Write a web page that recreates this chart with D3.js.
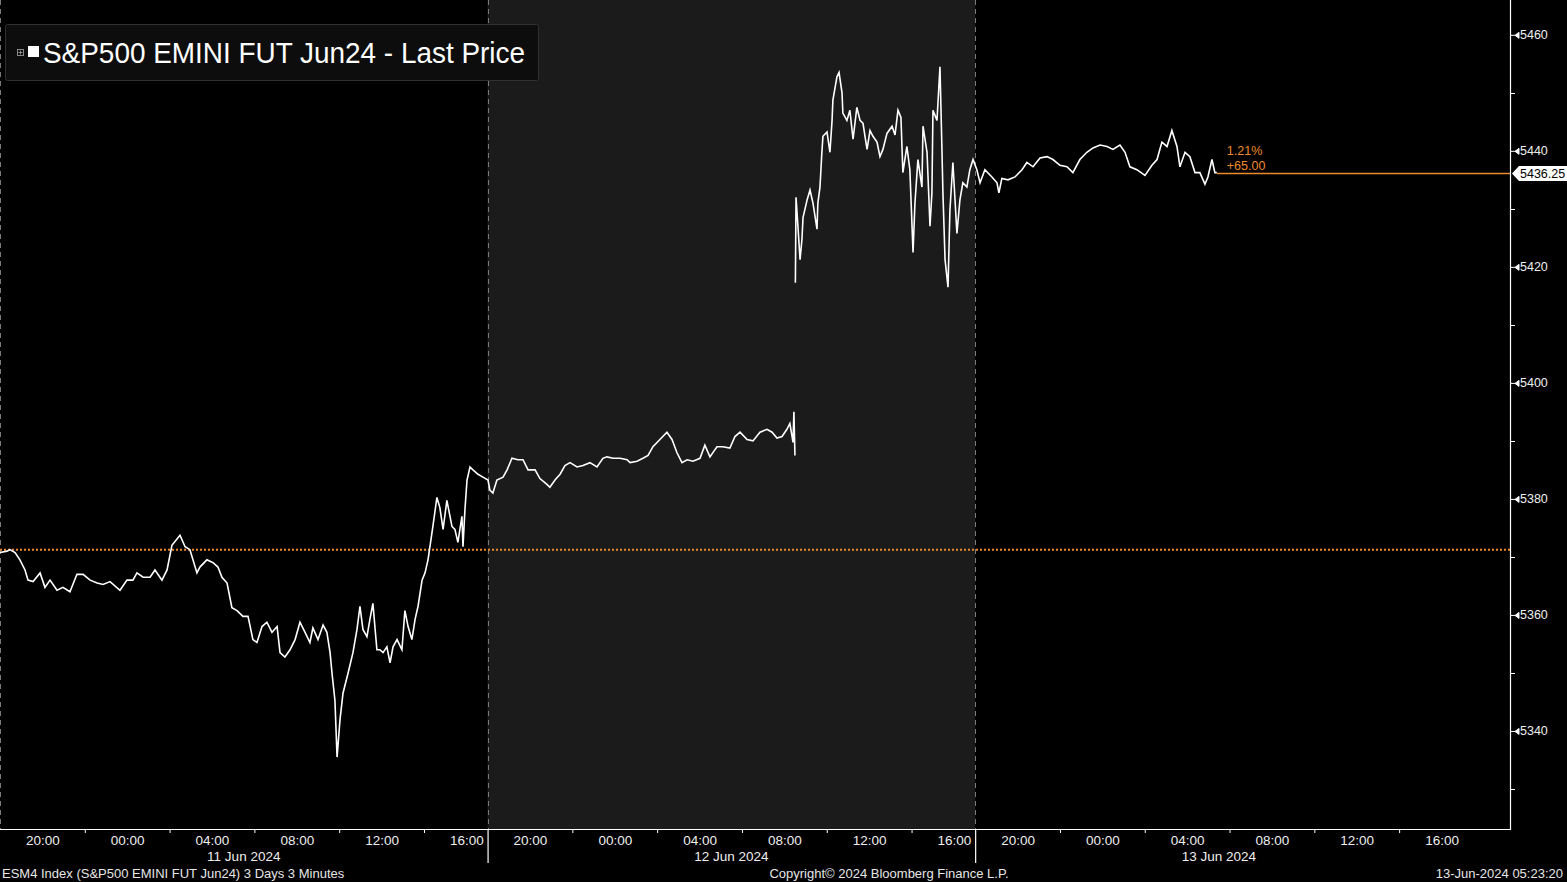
<!DOCTYPE html>
<html>
<head>
<meta charset="utf-8">
<script src="https://cdn.jsdelivr.net/npm/d3@7"></script>
<style>
  html, body { margin: 0; padding: 0; background: #000; }
  svg { display: block; }
  text { font-family: "Liberation Sans", Arial, sans-serif; }
</style>
</head>
<body>
<svg id="chart" width="1567" height="882"></svg>
<script>
// ---------------- DATA ----------------
const title = "S&P500 EMINI FUT Jun24 - Last Price";
const footerLeft = "ESM4 Index (S&P500 EMINI FUT  Jun24) 3 Days 3 Minutes";
const footerCenter = "Copyright\u00A9 2024 Bloomberg Finance L.P.";
const footerRight = "13-Jun-2024 05:23:20";

const sessionDates = ["11 Jun 2024", "12 Jun 2024", "13 Jun 2024"];
const sessionLength = 23;                 // trading hours per session (18:00 -> 17:00)
const xTickOffsets = [2, 6, 10, 14, 18, 22];   // hours after 18:00 open
const xTickLabels = ["20:00", "00:00", "04:00", "08:00", "12:00", "16:00"];
const minorTickOffsets = [0, 4, 8, 12, 16, 20];
const xDomainHours = [0, 71.23];

const yMajorTicks = [5340, 5360, 5380, 5400, 5420, 5440, 5460];
const yMinorTicks = [5330, 5350, 5370, 5390, 5410, 5430, 5450];
const yDomain = [5323.1, 5466.0];

const prevClose = 5371.25;
const lastPrice = 5436.25;

// trading hours since 10-Jun 18:00 (daily 17:00-18:00 halt removed)
const hours = [
  0, 0.33, 0.47, 0.71, 0.94, 1.18, 1.32, 1.56, 1.89, 2.12, 2.36, 2.69, 2.97, 3.30, 3.63, 3.92,
  4.25, 4.58, 4.86, 5.19, 5.66, 5.99, 6.27, 6.46, 6.75, 7.08, 7.31, 7.64, 7.88, 8.11, 8.49, 8.73,
  8.96, 9.29, 9.43, 9.76, 10.05, 10.28, 10.47, 10.71, 10.94, 11.18, 11.46, 11.70, 11.93, 12.12,
  12.36, 12.59, 12.83, 13.07, 13.21, 13.44, 13.68, 13.92, 14.15, 14.39, 14.62, 14.76, 15.00,
  15.24, 15.42, 15.57, 15.66, 15.80, 15.90, 16.04, 16.18, 16.42, 16.65, 16.84, 16.98, 17.12,
  17.31, 17.45, 17.59, 17.78, 17.92, 18.07, 18.25, 18.40, 18.54, 18.73, 18.96, 19.10, 19.25,
  19.43, 19.58, 19.72, 19.91, 20.05, 20.19, 20.28, 20.42, 20.61, 20.75, 20.90, 21.08, 21.32,
  21.46, 21.60, 21.79, 21.84, 21.93, 22.03, 22.17, 22.31, 22.55, 22.78, 23.02, 23.11, 23.25,
  23.44, 23.73, 23.92, 24.15, 24.43, 24.67, 24.91, 25.24, 25.47, 25.80, 25.94, 26.18, 26.42,
  26.65, 26.89, 27.22, 27.50, 27.83, 28.16, 28.44, 28.63, 28.92, 29.25, 29.58, 29.72, 30.05,
  30.33, 30.57, 30.80, 31.13, 31.46, 31.70, 31.93, 32.17, 32.41, 32.69, 33.02, 33.25, 33.49,
  33.82, 34.10, 34.43, 34.67, 34.91, 35.24, 35.52, 35.85, 36.18, 36.42, 36.65, 36.89, 37.12,
  37.26, 37.41, 37.45, 37.50, 37.51,
  37.52, 37.55, 37.64, 37.74, 37.83, 37.88, 38.07, 38.21, 38.35, 38.54, 38.58, 38.68, 38.77,
  38.82, 39.01, 39.15, 39.25, 39.29, 39.48, 39.58, 39.72, 39.76, 39.95, 40.09, 40.24, 40.42,
  40.57, 40.71, 40.90, 41.04, 41.18, 41.37, 41.51, 41.65, 41.84, 42.08, 42.22, 42.36, 42.50,
  42.59, 42.78, 42.92, 43.07, 43.16, 43.30, 43.49, 43.54, 43.73, 43.87, 43.96, 44.01, 44.20,
  44.34, 44.43, 44.48, 44.58, 44.72, 44.81, 44.95, 45.14, 45.28, 45.42, 45.61, 45.75, 45.90,
  46.08, 46.23, 46.46, 46.79, 47.03, 47.12, 47.26, 47.55, 47.88, 48.21, 48.44, 48.73, 49.06,
  49.39, 49.67, 50.00, 50.33, 50.61, 50.94, 51.27, 51.56, 51.89, 52.22, 52.50, 52.83, 53.07,
  53.30, 53.63, 54.01, 54.34, 54.58, 54.81, 55.05, 55.28, 55.52, 55.66, 55.90, 56.13, 56.37,
  56.60, 56.84, 56.98, 57.17, 57.31, 57.40
];
const prices = [
  5370.75, 5371.0, 5371.25, 5370.75, 5369.5, 5367.75, 5366.0, 5365.75, 5367.25, 5364.75, 5366.0,
  5364.25, 5364.75, 5364.0, 5367.0, 5367.0, 5366.0, 5365.5, 5365.25, 5365.75, 5364.25, 5366.0,
  5366.0, 5367.25, 5366.5, 5366.5, 5367.75, 5366.0, 5367.75, 5372.0, 5373.75, 5371.75, 5371.25,
  5367.25, 5368.25, 5369.5, 5369.0, 5368.25, 5366.5, 5365.5, 5361.25, 5360.75, 5359.75, 5359.75,
  5355.75, 5355.25, 5358.0, 5358.75, 5357.0, 5358.0, 5353.5, 5352.75, 5354.0, 5355.75, 5358.75,
  5357.0, 5355.25, 5357.75, 5355.75, 5358.25, 5357.0, 5353.5, 5350.0, 5345.25, 5335.5, 5342.0,
  5346.5, 5350.0, 5353.5, 5357.5, 5361.5, 5357.5, 5356.25, 5359.25, 5362.0, 5354.0, 5354.0,
  5353.5, 5354.5, 5351.75, 5354.5, 5355.75, 5354.0, 5360.75, 5358.0, 5355.75, 5359.25, 5361.5,
  5366.0, 5367.25, 5369.5, 5371.75, 5375.25, 5380.25, 5378.5, 5374.75, 5379.75, 5375.25, 5374.75,
  5372.5, 5377.0, 5371.75, 5378.0, 5383.25, 5385.5, 5385.0, 5384.25, 5383.75, 5383.25, 5381.5,
  5381.0, 5383.25, 5383.75, 5385.0, 5387.0, 5386.75, 5386.75, 5385.0, 5385.0, 5383.5, 5382.5,
  5382.0, 5383.25, 5384.25, 5385.75, 5386.25, 5385.5, 5385.75, 5386.25, 5385.5, 5387.0, 5387.25,
  5387.0, 5387.0, 5386.75, 5386.25, 5386.5, 5387.0, 5387.5, 5389.0, 5390.25, 5391.5, 5390.25,
  5388.0, 5386.25, 5386.75, 5386.5, 5387.0, 5389.25, 5387.25, 5389.0, 5389.0, 5388.75, 5390.75,
  5391.5, 5390.25, 5390.0, 5391.5, 5392.0, 5391.5, 5390.5, 5390.75, 5392.0, 5393.0, 5389.75,
  5395.0, 5387.5, null,
  5417.25, 5432.0, 5427.0, 5421.25, 5424.75, 5428.5, 5431.5, 5433.25, 5431.0, 5426.5, 5431.0,
  5433.75, 5439.75, 5442.5, 5443.25, 5439.75, 5445.25, 5448.75, 5452.75, 5453.5, 5450.0, 5446.5,
  5445.25, 5447.0, 5442.0, 5447.5, 5445.25, 5444.75, 5440.25, 5443.5, 5442.5, 5441.5, 5439.0,
  5440.25, 5443.0, 5444.25, 5442.75, 5447.0, 5445.75, 5436.25, 5440.75, 5436.75, 5422.5, 5431.0,
  5438.5, 5433.75, 5444.25, 5439.75, 5427.0, 5432.75, 5447.0, 5445.25, 5454.5, 5440.75, 5432.75,
  5421.25, 5416.5, 5429.75, 5438.0, 5425.75, 5431.5, 5434.5, 5433.75, 5436.75, 5438.5, 5436.75,
  5434.5, 5436.75, 5435.5, 5434.5, 5432.75, 5435.25, 5435.0, 5435.5, 5436.75, 5438.0, 5437.25,
  5438.75, 5439.0, 5438.5, 5437.5, 5437.25, 5436.25, 5438.5, 5439.75, 5440.5, 5441.0, 5440.75,
  5440.25, 5441.0, 5439.75, 5437.25, 5436.75, 5435.75, 5437.5, 5438.5, 5441.5, 5440.75, 5443.5,
  5440.75, 5437.25, 5439.75, 5439.0, 5436.25, 5436.25, 5434.25, 5435.5, 5438.5, 5436.25, 5436.25
];

// ---------------- LAYOUT ----------------
const W = 1567, H = 882;
const plot = { left: 0, right: 1510, top: 0, bottom: 829 };
const white = "#ffffff";
const orange = "#ee8a2c";
const labelFont = "Liberation Sans, Arial, sans-serif";

const svg = d3.select("#chart");
const x = d3.scaleLinear().domain(xDomainHours).range([plot.left, plot.right]);
const y = d3.scaleLinear().domain(yDomain).range([plot.bottom, plot.top]);

svg.append("rect").attr("width", W).attr("height", H).attr("fill", "#000");

// middle session shading
svg.append("rect")
  .attr("x", x(sessionLength)).attr("y", plot.top)
  .attr("width", x(2 * sessionLength) - x(sessionLength))
  .attr("height", plot.bottom - plot.top)
  .attr("fill", "#1b1b1b");

// session separators (dashed)
[0, sessionLength, 2 * sessionLength].forEach(h => {
  const xx = Math.round(x(h)) + 0.5;
  svg.append("line")
    .attr("x1", xx).attr("x2", xx).attr("y1", plot.top).attr("y2", plot.bottom)
    .attr("stroke", "#7a7a7a").attr("stroke-width", 1).attr("stroke-dasharray", "5,4");
});

// previous close dotted line
svg.append("line")
  .attr("x1", plot.left).attr("x2", plot.right)
  .attr("y1", y(prevClose)).attr("y2", y(prevClose))
  .attr("stroke", orange).attr("stroke-width", 2).attr("stroke-dasharray", "2,2");

// last price line
const lastHour = hours[hours.length - 1];
const ly = Math.round(y(lastPrice));
svg.append("line")
  .attr("x1", x(lastHour)).attr("x2", plot.right)
  .attr("y1", ly + 0.5).attr("y2", ly + 0.5)
  .attr("stroke", orange).attr("stroke-width", 1.3);

// price line
const pts = hours.map((h, i) => ({ h, p: prices[i] }));
const line = d3.line().defined(d => d.p != null).x(d => x(d.h)).y(d => y(d.p));
svg.append("path").datum(pts)
  .attr("d", line).attr("fill", "none")
  .attr("stroke", white).attr("stroke-width", 1.6).attr("stroke-linejoin", "miter");

// change annotation
const chg = lastPrice - prevClose;
const pct = chg / prevClose * 100;
svg.append("text").attr("x", x(lastHour) + 10).attr("y", ly - 18)
  .attr("fill", orange).attr("font-size", 12.5).text(pct.toFixed(2) + "%");
svg.append("text").attr("x", x(lastHour) + 10).attr("y", ly - 3)
  .attr("fill", orange).attr("font-size", 12.5).text((chg >= 0 ? "+" : "") + chg.toFixed(2));

// ---------------- Y AXIS (right) ----------------
const yAxisG = svg.append("g").attr("transform", `translate(${plot.right},0)`);
yAxisG.call(d3.axisRight(y).tickValues(yMajorTicks).tickSize(0).tickPadding(10).tickFormat(d3.format("d")));
yAxisG.select(".domain").remove();
yAxisG.selectAll("text").attr("fill", "#eeeeee").attr("font-size", 12.5).attr("font-family", labelFont);
yAxisG.selectAll(".tick").append("path")
  .attr("d", "M0,0 L5,0 L9,-3 L9,3 L5,0")
  .attr("fill", white).attr("stroke", white).attr("stroke-width", 1);
yMinorTicks.forEach(v => {
  svg.append("line").attr("x1", plot.right).attr("x2", plot.right + 5)
    .attr("y1", Math.round(y(v)) + 0.5).attr("y2", Math.round(y(v)) + 0.5)
    .attr("stroke", white).attr("stroke-width", 1);
});
svg.append("line").attr("x1", plot.right + 0.5).attr("x2", plot.right + 0.5)
  .attr("y1", 0).attr("y2", plot.bottom + 1).attr("stroke", white).attr("stroke-width", 1.2);

// last price label
svg.append("path")
  .attr("d", `M${plot.right + 2},${ly + 0.5} L${plot.right + 9},${ly - 7} L${W},${ly - 7} L${W},${ly + 8} L${plot.right + 9},${ly + 8} Z`)
  .attr("fill", white);
svg.append("text").attr("x", plot.right + 10).attr("y", ly + 5)
  .attr("fill", "#000").attr("font-size", 12.5).text(lastPrice.toFixed(2));

// ---------------- X AXIS ----------------
const labelHours = [], labelText = [], minorHours = [];
for (let s = 0; s < sessionDates.length; s++) {
  xTickOffsets.forEach((o, i) => { labelHours.push(s * sessionLength + o); labelText.push(xTickLabels[i]); });
  minorTickOffsets.forEach(o => { if (o !== 0) minorHours.push(s * sessionLength + o); });
}
const xAxisG = svg.append("g").attr("transform", `translate(0,${plot.bottom})`);
xAxisG.call(d3.axisBottom(x).tickValues(labelHours).tickSize(0).tickPadding(6)
  .tickFormat((d, i) => labelText[i]));
xAxisG.select(".domain").remove();
xAxisG.selectAll("text").attr("fill", "#eeeeee").attr("font-size", 13.5).attr("font-family", labelFont);

const minorG = svg.append("g").attr("transform", `translate(0,${plot.bottom})`);
minorG.call(d3.axisBottom(x).tickValues(minorHours).tickSize(4).tickFormat(""));
minorG.select(".domain").remove();
minorG.selectAll("line").attr("stroke", white);

const sepG = svg.append("g").attr("transform", `translate(0,${plot.bottom})`);
sepG.call(d3.axisBottom(x).tickValues([sessionLength, 2 * sessionLength]).tickSize(34).tickFormat(""));
sepG.select(".domain").remove();
sepG.selectAll("line").attr("stroke", white).attr("stroke-width", 1.2);

svg.append("line").attr("x1", 0).attr("x2", plot.right + 1)
  .attr("y1", plot.bottom + 0.5).attr("y2", plot.bottom + 0.5)
  .attr("stroke", white).attr("stroke-width", 1.2);

sessionDates.forEach((d, s) => {
  svg.append("text")
    .attr("x", x(s * sessionLength + sessionLength / 2)).attr("y", plot.bottom + 32)
    .attr("text-anchor", "middle").attr("fill", "#eeeeee").attr("font-size", 13.5).text(d);
});

// ---------------- FOOTER ----------------
svg.append("text").attr("x", 2).attr("y", 878).attr("fill", "#e6e6e6").attr("font-size", 13).text(footerLeft);
svg.append("text").attr("x", 889).attr("y", 878).attr("text-anchor", "middle").attr("fill", "#e6e6e6").attr("font-size", 13).text(footerCenter);
svg.append("text").attr("x", 1563).attr("y", 878).attr("text-anchor", "end").attr("fill", "#e6e6e6").attr("font-size", 13).text(footerRight);

// ---------------- LEGEND ----------------
const lg = svg.append("g");
lg.append("rect").attr("x", 5.5).attr("y", 24.5).attr("width", 533).attr("height", 56).attr("rx", 2)
  .attr("fill", "#0d0d0d").attr("stroke", "#303030");
lg.append("rect").attr("x", 17.5).attr("y", 49.5).attr("width", 6).attr("height", 6)
  .attr("fill", "none").attr("stroke", "#888").attr("stroke-width", 1);
lg.append("path").attr("d", "M18.5,52.5 H22.5 M20.5,50.5 V54.5").attr("stroke", "#888").attr("stroke-width", 1);
lg.append("rect").attr("x", 28).attr("y", 46).attr("width", 11).attr("height", 11).attr("fill", white);
lg.append("text").attr("x", 43).attr("y", 63).attr("fill", white).attr("font-size", 30)
  .attr("textLength", 482).attr("lengthAdjust", "spacingAndGlyphs").text(title);
</script>
</body>
</html>
